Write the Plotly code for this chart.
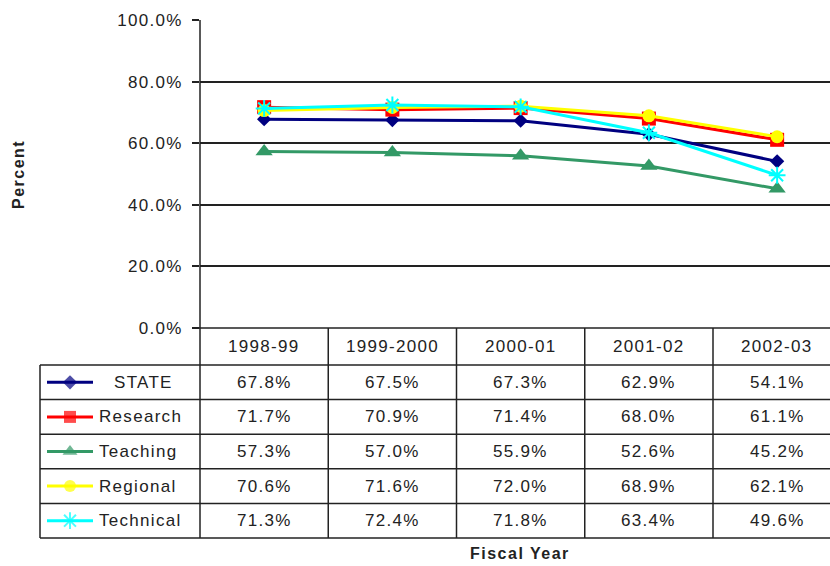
import plotly.graph_objects as go

# ---------------- data ----------------
years = ["1998-99", "1999-2000", "2000-01", "2001-02", "2002-03"]
series_names = ["STATE", "Research", "Teaching", "Regional", "Technical"]
state = [67.8, 67.5, 67.3, 62.9, 54.1]
research = [71.7, 70.9, 71.4, 68.0, 61.1]
teaching = [57.3, 57.0, 55.9, 52.6, 45.2]
regional = [70.6, 71.6, 72.0, 68.9, 62.1]
technical = [71.3, 72.4, 71.8, 63.4, 49.6]
y_ticks = [0, 20, 40, 60, 80, 100]

# ---------------- styles ----------------
colors = ["#000080", "#FF0000", "#339966", "#FFFF00", "#00FFFF"]
symbols = ["diamond", "square", "triangle-up", "circle", "asterisk-open"]
msizes = [11, 14, 15, 13, 14]
legend_msizes = [11, 12, 13, 12, 14]
values = [state, research, teaching, regional, technical]

W, H = 830, 566
PLOT_L, PLOT_T, PLOT_B = 200, 20, 328
COLW = 128.25
TABLE_L = 40
HEADER_B = 365
ROW_H = 34.6
LINE_C = "#222222"
FONT = "Liberation Sans, Arial, sans-serif"
TXT_C = "#222222"
LS = "letter-spacing:1.3px"


def sp(t, ls=LS):
    return f'<span style="{ls}">{t}</span>'


fig = go.Figure()

# main series
for name, vals, c, s, ms in zip(series_names, values, colors, symbols, msizes):
    fig.add_trace(go.Scatter(
        x=list(range(len(years))), y=[v / 100 for v in vals],
        mode="lines+markers", name=name,
        line=dict(color=c, width=3),
        marker=dict(symbol=s, size=ms, color=c,
                    line=dict(color=c, width=2 if s == "asterisk-open" else 0)),
        xaxis="x", yaxis="y", showlegend=False, cliponaxis=False,
    ))

shapes = []
annotations = []


def hline(y, x0, x1):
    shapes.append(dict(type="line", xref="x2", yref="y2", x0=x0, x1=x1, y0=y, y1=y,
                       line=dict(color=LINE_C, width=1.5)))


def vline(x, y0, y1):
    shapes.append(dict(type="line", xref="x2", yref="y2", x0=x, x1=x, y0=y0, y1=y1,
                       line=dict(color=LINE_C, width=1.5)))


n_rows = len(series_names)
table_b = HEADER_B + n_rows * ROW_H

# table frame
hline(PLOT_B, PLOT_L - 7, W)
hline(HEADER_B, TABLE_L, W)
for r in range(n_rows):
    hline(HEADER_B + (r + 1) * ROW_H, TABLE_L, W)
vline(PLOT_L, PLOT_T, table_b)
vline(TABLE_L, HEADER_B, table_b)
for i in range(1, len(years) + 1):
    vline(PLOT_L + i * COLW, PLOT_B, table_b)

# header texts
for i, yr in enumerate(years):
    annotations.append(dict(xref="x2", yref="y2", x=PLOT_L + (i + 0.5) * COLW,
                            y=(PLOT_B + HEADER_B) / 2, text=sp(yr), showarrow=False,
                            font=dict(family=FONT, size=17, color=TXT_C)))

# rows
for r, (name, vals, c, s, ms) in enumerate(zip(series_names, values, colors, symbols, legend_msizes)):
    yc = HEADER_B + (r + 0.5) * ROW_H
    for i, v in enumerate(vals):
        annotations.append(dict(xref="x2", yref="y2", x=PLOT_L + (i + 0.5) * COLW, y=yc,
                                text=sp(f"{v:.1f}%"), showarrow=False,
                                font=dict(family=FONT, size=17, color=TXT_C)))
    # legend swatch
    fig.add_trace(go.Scatter(
        x=[47, 70, 93], y=[yc, yc, yc], mode="lines+markers",
        line=dict(color=c, width=3),
        marker=dict(symbol=s, size=[0, ms, 0], color=c,
                    line=dict(color=c, width=2 if s == "asterisk-open" else 0)),
        xaxis="x2", yaxis="y2", showlegend=False, hoverinfo="skip",
    ))
    annotations.append(dict(xref="x2", yref="y2", x=112 if r == 0 else 97, y=yc,
                            text=sp(name), showarrow=False, xanchor="left",
                            font=dict(family=FONT, size=17, color=TXT_C)))

# axis titles
annotations.append(dict(xref="x2", yref="y2", x=18, y=175, text=sp("<b>Percent</b>", "letter-spacing:1.5px"),
                        textangle=-90, showarrow=False,
                        font=dict(family=FONT, size=16, color=TXT_C)))
annotations.append(dict(xref="x2", yref="y2", x=520, y=553, text=sp("<b>Fiscal Year</b>", "letter-spacing:1.5px"),
                        showarrow=False, font=dict(family=FONT, size=16, color=TXT_C)))

fig.update_layout(
    width=W, height=H,
    margin=dict(l=0, r=0, t=0, b=0),
    paper_bgcolor="white", plot_bgcolor="rgba(0,0,0,0)",
    xaxis=dict(domain=[PLOT_L / W, 1], range=[-0.5, -0.5 + (W - PLOT_L) / COLW],
               showticklabels=False, showgrid=False, zeroline=False, showline=False,
               ticks="", anchor="y", fixedrange=True),
    yaxis=dict(domain=[(H - PLOT_B) / H, (H - PLOT_T) / H], range=[0, 1],
               tickvals=[t / 100 for t in y_ticks],
               ticktext=[sp(f"{t:.1f}%") for t in y_ticks],
               ticks="outside", ticklen=7, tickcolor=LINE_C, tickwidth=1.5,
               ticklabelstandoff=6,
               showgrid=True, gridcolor=LINE_C, gridwidth=1.5,
               zeroline=False, showline=False, anchor="x", automargin=False,
               tickfont=dict(family=FONT, size=17, color=TXT_C), fixedrange=True),
    xaxis2=dict(domain=[0, 1], range=[0, W], visible=False, anchor="y2", fixedrange=True),
    yaxis2=dict(domain=[0, 1], range=[H, 0], visible=False, anchor="x2", fixedrange=True),
    shapes=shapes, annotations=annotations,
    showlegend=False,
)

fig.write_html(
    "out.html",
    config={"displayModeBar": False},
    post_script="document.body.style.margin='0';document.body.style.overflow='hidden';",
)
